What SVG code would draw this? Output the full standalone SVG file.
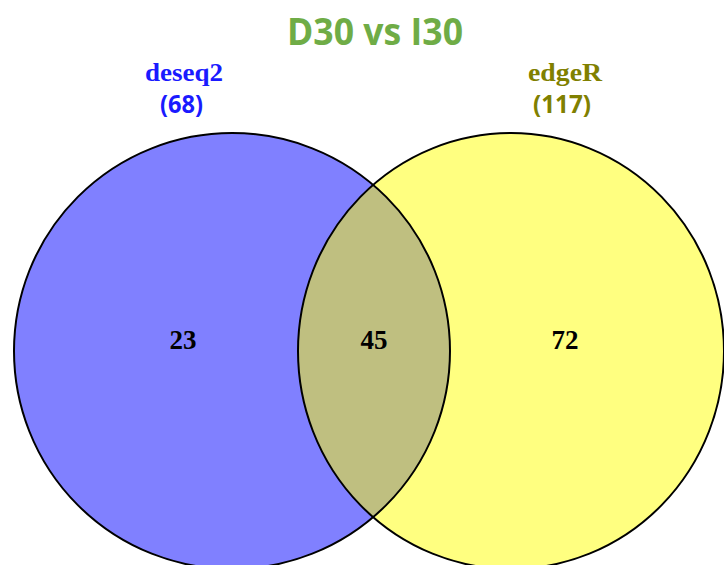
<svg xmlns="http://www.w3.org/2000/svg" width="724" height="565" viewBox="0 0 724 565">
<style>
.title{font-family:"Open Sans","Liberation Sans",sans-serif;font-weight:bold;font-size:37px;fill:#6fac46;text-anchor:middle}
.setname{font-family:"Liberation Serif",serif;font-weight:bold;font-size:25px;text-anchor:middle}
.count{font-family:"Open Sans","Liberation Sans",sans-serif;font-weight:bold;font-size:25px;text-anchor:middle}
.num{font-family:"Liberation Serif",serif;font-weight:bold;font-size:27px;fill:#000;text-anchor:middle}
.edge{fill:none;stroke:#000;stroke-width:2}
</style>
<defs>
<clipPath id="clipR"><ellipse cx="511" cy="351" rx="213" ry="218"/></clipPath>
</defs>
<rect width="724" height="565" fill="#fff"/>
<g id="set-deseq2">
<circle cx="232" cy="351" r="218" fill="#8080ff"/>
</g>
<g id="set-edgeR">
<ellipse cx="511" cy="351" rx="213" ry="218" fill="#ffff80"/>
</g>
<g id="overlap">
<circle cx="232" cy="351" r="218" fill="#bfbf80" clip-path="url(#clipR)"/>
</g>
<g id="outlines">
<circle class="edge" cx="232" cy="351" r="218"/>
<ellipse class="edge" cx="511" cy="351" rx="213" ry="218"/>
</g>
<text class="title" x="375" y="45" textLength="176" lengthAdjust="spacingAndGlyphs">D30 vs I30</text>
<g id="label-deseq2">
<text class="setname" x="184" y="81" fill="#1a1aff" textLength="78" lengthAdjust="spacingAndGlyphs">deseq2</text>
<text class="count" x="181.5" y="113" fill="#1a1aff" textLength="43" lengthAdjust="spacingAndGlyphs">(68)</text>
</g>
<g id="label-edgeR">
<text class="setname" x="565" y="81" fill="#808000" textLength="74" lengthAdjust="spacingAndGlyphs">edgeR</text>
<text class="count" x="562" y="113" fill="#808000" textLength="58" lengthAdjust="spacingAndGlyphs">(117)</text>
</g>
<text class="num" x="183" y="349">23</text>
<text class="num" x="374" y="349">45</text>
<text class="num" x="565" y="349">72</text>
</svg>
